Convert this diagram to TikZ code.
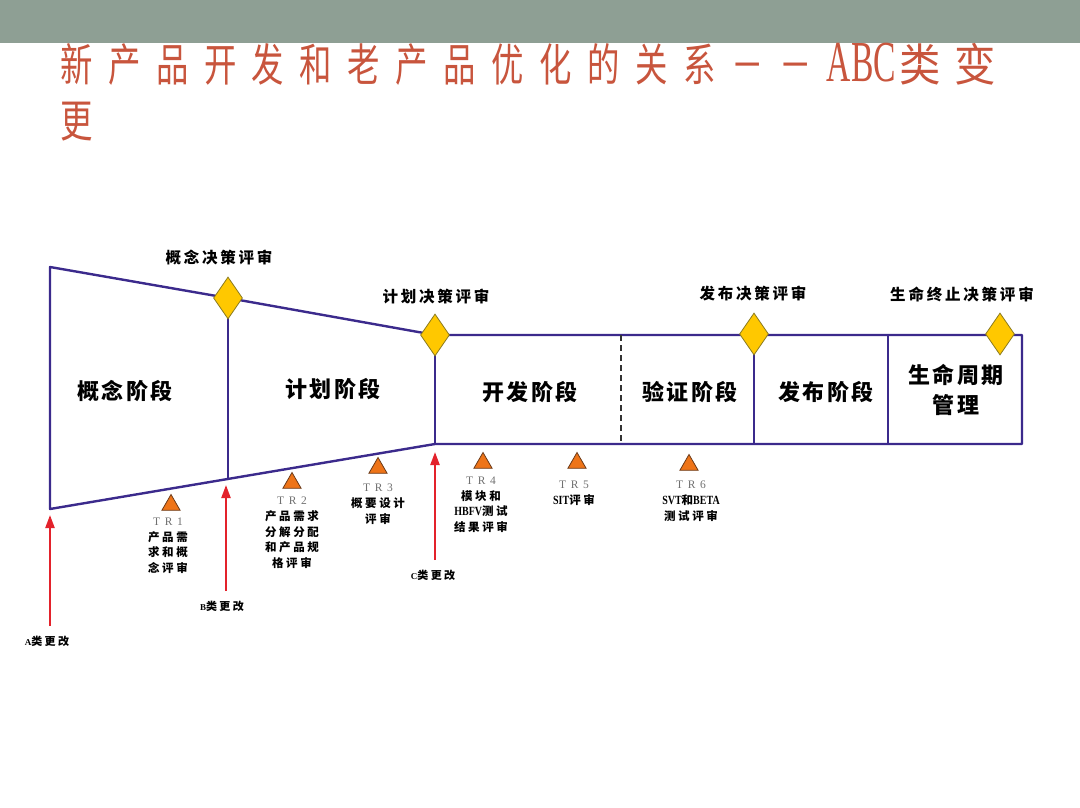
\documentclass[tikz,border=0pt]{standalone}
\usepackage{fontspec}
\usetikzlibrary{shapes.geometric,arrows.meta}
\newfontfamily\titlefont{Noto Sans CJK SC}[LetterSpace=48]
\newfontfamily\titlefontb{Noto Sans CJK SC}
\newfontfamily\titlelat{Liberation Serif}
\newfontfamily\phasefont{Noto Sans CJK SC}[LetterSpace=12]
\newfontfamily\gatefont{Noto Sans CJK SC}[LetterSpace=18]
\newfontfamily\smallfont{Noto Sans CJK SC}[LetterSpace=22]
\newfontfamily\trfont{Liberation Serif}[LetterSpace=40]
\newfontfamily\latfont{Liberation Serif}
\newcommand\latx[1]{\scalebox{0.8}[1]{\latfont\bfseries\fontsize{12.5}{15.6}\selectfont #1}}
\definecolor{banner}{HTML}{8E9F94}
\definecolor{titlered}{HTML}{C8553D}
\definecolor{lineblue}{HTML}{3B2A8C}
\definecolor{gold}{HTML}{FFC800}
\definecolor{goldedge}{HTML}{8A7A20}
\definecolor{triorange}{HTML}{EE7418}
\definecolor{triedge}{HTML}{6B3A18}
\definecolor{arrowred}{HTML}{E3222B}
\definecolor{trgray}{HTML}{707070}
\begin{document}
\begin{tikzpicture}[x=1pt,y=-1pt,
  frame/.style={draw=lineblue,line width=2.4pt,line join=round},
  gate/.style={diamond,draw=goldedge,fill=gold,line width=0.8pt,minimum width=29pt,minimum height=42pt,inner sep=0pt},
  tri/.style={regular polygon,regular polygon sides=3,draw=triedge,fill=triorange,line width=0.8pt,minimum size=21pt,inner sep=0pt},
  phase/.style={font=\phasefont\bfseries\fontsize{22}{30}\selectfont,align=center,inner sep=0pt},
  gatelab/.style={font=\gatefont\bfseries\fontsize{15.5}{18}\selectfont,inner sep=0pt},
  trlab/.style={font=\smallfont\bfseries\fontsize{11.5}{15.6}\selectfont,align=center,inner sep=0pt,anchor=north},
  redarrow/.style={draw=arrowred,line width=2.2pt,-{Triangle[width=9pt,length=13pt]}},
  chg/.style={font=\smallfont\bfseries\fontsize{11}{13}\selectfont,inner sep=0pt},
  titletext/.style={anchor=base west,text=titlered,inner sep=0pt}
]
\useasboundingbox (0,0) rectangle (1080,808);
\fill[banner] (0,0) rectangle (1080,43);
% title
\node[titletext] (title1) at (60,82)
  {\scalebox{0.72}[1]{\titlefont\fontsize{45}{50}\selectfont 新产品开发和老产品优化的关系－－}%
   \hspace{15pt}\scalebox{0.58}[1]{\titlelat\fontsize{58}{60}\selectfont ABC}%
   \hspace{3pt}\scalebox{0.92}[1]{\titlefontb\fontsize{45}{50}\selectfont 类\hspace{15pt}变}};
\node[titletext] (title2) at (60,138)
  {\scalebox{0.72}[1]{\titlefont\fontsize{45}{50}\selectfont 更}};
% frame coordinates
\coordinate (tl) at (50,267);
\coordinate (bl) at (50,509);
\coordinate (b1) at (228,479);
\coordinate (rtl) at (435,335);
\coordinate (rbl) at (435,444);
\coordinate (rtr) at (1022,335);
\coordinate (rbr) at (1022,444);
\coordinate (dt) at (621,335);
\coordinate (db) at (621,444);
\coordinate (s1t) at (754,335);
\coordinate (s1b) at (754,444);
\coordinate (s2t) at (888,335);
\coordinate (s2b) at (888,444);
\coordinate (g1c) at (228,298);
% outline
\draw[frame] (tl) -- (g1c) -- (rtl) -- (rtr) -- (rbr) -- (rbl) -- (bl) -- cycle;
\draw[frame] (g1c) -- (b1);
\draw[frame] (rtl) -- (rbl);
\draw[frame] (s1t) -- (s1b);
\draw[frame] (s2t) -- (s2b);
\draw[draw=black!80,line width=1.2pt,dash pattern=on 6pt off 4pt] (dt) -- (db);
% gates
\node[gate] (g1) at (228,298) {};
\node[gate] (g2) at (435,335) {};
\node[gate] (g3) at (754,334) {};
\node[gate] (g4) at (1000,334) {};
\node[gatelab] (gl1) at (219,258) {概念决策评审};
\node[gatelab] (gl2) at (436,297) {计划决策评审};
\node[gatelab] (gl3) at (753,294) {发布决策评审};
\node[gatelab] (gl4) at (962,294) {生命终止决策评审};
% phases
\node[phase] (p1) at (125,391) {概念阶段};
\node[phase] (p2) at (333,389) {计划阶段};
\node[phase] (p3) at (530,392) {开发阶段};
\node[phase] (p4) at (690,392) {验证阶段};
\node[phase] (p5) at (826,392) {发布阶段};
\node[phase] (p6) at (956,390) {生命周期\\管理};
% technical reviews
\node[tri] (tr1) at (171,505) {};
\node[tri] (tr2) at (292,483) {};
\node[tri] (tr3) at (378,468) {};
\node[tri] (tr4) at (483,463) {};
\node[tri] (tr5) at (577,463) {};
\node[tri] (tr6) at (689,465) {};
\node[trlab] (t1) at (168,518) {{\trfont\mdseries\color{trgray}TR1}\\产品需\\求和概\\念评审};
\node[trlab] (t2) at (292,497) {{\trfont\mdseries\color{trgray}TR2}\\产品需求\\分解分配\\和产品规\\格评审};
\node[trlab] (t3) at (378,484) {{\trfont\mdseries\color{trgray}TR3}\\概要设计\\评审};
\node[trlab] (t4) at (481,477) {{\trfont\mdseries\color{trgray}TR4}\\模块和\\\latx{HBFV}测试\\结果评审};
\node[trlab] (t5) at (574,481) {{\trfont\mdseries\color{trgray}TR5}\\\latx{SIT}评审};
\node[trlab] (t6) at (691,481) {{\trfont\mdseries\color{trgray}TR6}\\\latx{SVT}和\latx{BETA}\\测试评审};
% change arrows
\coordinate (aS) at (50,626);
\coordinate (aT) at (50,515);
\coordinate (bS) at (226,591);
\coordinate (bT) at (226,485);
\coordinate (cS) at (435,560);
\coordinate (cT) at (435,452);
\draw[redarrow] (aS) -- (aT);
\draw[redarrow] (bS) -- (bT);
\draw[redarrow] (cS) -- (cT);
\node[chg] (ca) at (47,641) {{\latfont\fontsize{9}{11}\selectfont A}类更改};
\node[chg] (cb) at (222,606) {{\latfont\fontsize{9}{11}\selectfont B}类更改};
\node[chg] (cc) at (433,575) {{\latfont\fontsize{9}{11}\selectfont C}类更改};
\end{tikzpicture}
\end{document}
